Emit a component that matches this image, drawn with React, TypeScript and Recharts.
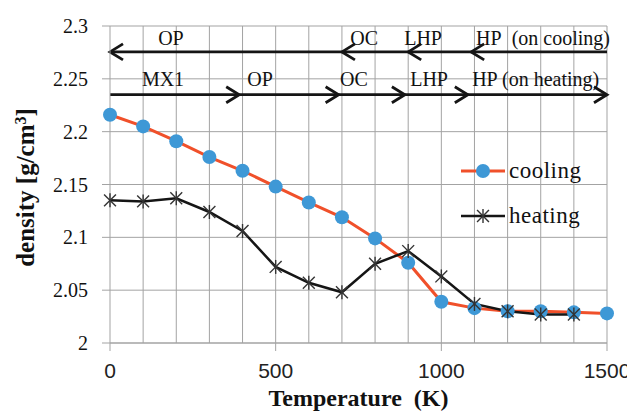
import {
  CartesianGrid,
  Customized,
  Legend,
  Line,
  LineChart,
  ReferenceDot,
  ReferenceLine,
  XAxis,
  YAxis
} from 'recharts';

const temperatures = [0, 100, 200, 300, 400, 500, 600, 700, 800, 900, 1000, 1100, 1200, 1300, 1400, 1500];
const cooling = [2.216, 2.205, 2.191, 2.176, 2.163, 2.148, 2.133, 2.119, 2.099, 2.076, 2.039, 2.033, 2.03, 2.03, 2.029, 2.028];
const heating = [2.135, 2.134, 2.137, 2.124, 2.106, 2.072, 2.057, 2.048, 2.075, 2.087, 2.063, 2.037, 2.03, 2.027, 2.027];

const xTicks = [0, 500, 1000, 1500];
const yTicks = [2, 2.05, 2.1, 2.15, 2.2, 2.25, 2.3];
const gridX = [100, 200, 300, 400, 500, 600, 700, 800, 900, 1000, 1100, 1200, 1300, 1400, 1500];

// phase arrows, [from, to] in K
const coolingArrows = [[1500, 1090], [1090, 900], [900, 700], [700, 0]];
const heatingArrows = [[0, 390], [390, 690], [690, 890], [890, 1080], [1080, 1500]];
const coolingArrowY = 2.2755;
const heatingArrowY = 2.235;

const coolingPhases = [
  { x: 184, text: 'OP', anchor: 'middle' },
  { x: 767, text: 'OC', anchor: 'middle' },
  { x: 945, text: 'LHP', anchor: 'middle' },
  { x: 1105, text: 'HP\u00a0\u00a0(on cooling)', anchor: 'start' }
];
const heatingPhases = [
  { x: 160, text: 'MX1', anchor: 'middle' },
  { x: 453, text: 'OP', anchor: 'middle' },
  { x: 736, text: 'OC', anchor: 'middle' },
  { x: 963, text: 'LHP', anchor: 'middle' },
  { x: 1093, text: 'HP (on heating)', anchor: 'start' }
];
const coolingLabelY = 2.289;
const heatingLabelY = 2.25;

const data = temperatures.map((t, i) => ({
  temperature: t,
  cooling: cooling[i],
  heating: heating[i]
}));

const SERIF = '"Liberation Serif", "Times New Roman", serif';
const GRID = '#a3a3a3';
const ORANGE = '#f0502a';
const BLUE = '#3e98d6';
const DARK = '#151515';

function Arrow(props: any) {
  const { x1, y1, x2, y2 } = props;
  const dir = x2 > x1 ? 1 : -1;
  const len = 13;
  const half = 8;
  return (
    <g stroke={DARK} strokeWidth={2.8} fill='none'>
      <line x1={x1} y1={y1} x2={x2} y2={y2} />
      <polyline points={`${x2 - dir * len},${y2 - half} ${x2},${y2} ${x2 - dir * len},${y2 + half}`} />
    </g>
  );
}

function Star({ cx, cy, size = 7, color = '#333' }: any) {
  if (cx == null || cy == null) return null;
  const d = size * 0.85;
  return (
    <g stroke={color} strokeWidth={1.4}>
      <line x1={cx} y1={cy - size} x2={cx} y2={cy + size} />
      <line x1={cx - d} y1={cy - d} x2={cx + d} y2={cy + d} />
      <line x1={cx - d} y1={cy + d} x2={cx + d} y2={cy - d} />
    </g>
  );
}

function phaseLabel(text: string, anchor: string) {
  return (p: any) => (
    <text
      x={p.cx}
      y={p.cy}
      textAnchor={anchor}
      dominantBaseline='central'
      fontFamily={SERIF}
      fontSize={20}
      fill='#111'
    >
      {text}
    </text>
  );
}

function LegendBox() {
  const rows = [
    { name: 'cooling', line: ORANGE },
    { name: 'heating', line: DARK }
  ];
  return (
    <div>
      {rows.map(r => (
        <div key={r.name} style={{ display: 'flex', alignItems: 'center', height: 45 }}>
          <svg width={48} height={20}>
            <line x1={2} y1={10} x2={46} y2={10} stroke={r.line} strokeWidth={r.name === 'cooling' ? 3 : 2.5} />
            {r.name === 'cooling' ? (
              <circle cx={24} cy={10} r={7} fill={BLUE} />
            ) : (
              <Star cx={24} cy={10} />
            )}
          </svg>
          <span style={{ fontFamily: SERIF, fontSize: 23, color: '#111', marginLeft: 2, letterSpacing: 0.5 }}>
            {r.name}
          </span>
        </div>
      ))}
    </div>
  );
}

export default function App() {
  return (
    <div style={{ margin: -8 }}>
      <LineChart width={635} height={420} data={data} margin={{ top: 26, right: 28, left: 0, bottom: 0 }}>
        <CartesianGrid stroke={GRID} vertical={false} />
        {gridX.map(v => (
          <ReferenceLine key={`g${v}`} x={v} stroke={GRID} strokeWidth={1} />
        ))}
        <XAxis
          type='number'
          dataKey='temperature'
          domain={[0, 1500]}
          ticks={xTicks}
          height={77}
          tickSize={8}
          tickMargin={12}
          stroke={GRID}
          tick={{ fontFamily: '"Liberation Sans", Arial, sans-serif', fontSize: 21, fill: '#222' }}
          label={(p: any) => (
            <text
              x={p.viewBox.x + p.viewBox.width / 2}
              y={p.viewBox.y + 63}
              textAnchor='middle'
              fontFamily={SERIF}
              fontWeight='bold'
              fontSize={24}
              fill='#111'
            >
              Temperature{'\u00a0\u00a0'}(K)
            </text>
          )}
        />
        <YAxis
          type='number'
          domain={[2, 2.3]}
          ticks={yTicks}
          width={110}
          tickSize={8}
          tickMargin={14}
          stroke={GRID}
          tick={{ fontFamily: SERIF, fontSize: 20, fill: '#111' }}
          label={(p: any) => {
            const cx = 34;
            const cy = p.viewBox.y + p.viewBox.height / 2 + 3;
            return (
              <text
                x={cx}
                y={cy}
                transform={`rotate(-90, ${cx}, ${cy})`}
                textAnchor='middle'
                fontFamily={SERIF}
                fontWeight='bold'
                fontSize={25}
                fill='#111'
              >
                density [g/cm<tspan baselineShift='super' fontSize={16}>3</tspan>]
              </text>
            );
          }}
        />
        {coolingArrows.map(([a, b]) => (
          <ReferenceLine
            key={`c${a}`}
            segment={[{ x: a, y: coolingArrowY }, { x: b, y: coolingArrowY }]}
            shape={Arrow}
          />
        ))}
        {heatingArrows.map(([a, b]) => (
          <ReferenceLine
            key={`h${a}`}
            segment={[{ x: a, y: heatingArrowY }, { x: b, y: heatingArrowY }]}
            shape={Arrow}
          />
        ))}
        {coolingPhases.map(p => (
          <ReferenceDot key={`cl${p.x}`} x={p.x} y={coolingLabelY} shape={phaseLabel(p.text, p.anchor)} />
        ))}
        {heatingPhases.map(p => (
          <ReferenceDot key={`hl${p.x}`} x={p.x} y={heatingLabelY} shape={phaseLabel(p.text, p.anchor)} />
        ))}
        <Line
          dataKey='cooling'
          stroke={ORANGE}
          strokeWidth={3}
          dot={{ r: 7, fill: BLUE, stroke: 'none' }}
          activeDot={false}
          isAnimationActive={false}
        />
        <Line
          dataKey='heating'
          stroke={DARK}
          strokeWidth={2.5}
          dot={(p: any) => <Star key={p.index} cx={p.cx} cy={p.cy} />}
          activeDot={false}
          isAnimationActive={false}
        />
        <Legend
          content={() => <LegendBox />}
          wrapperStyle={{ left: 459, top: 148, width: 170 }}
          layout='horizontal'
          verticalAlign='middle'
          align='center'
        />
        <Customized
          component={() => (
            <text x={321} y={3} textAnchor='middle' fontFamily={SERIF} fontSize={18} fill='#333'>
              (a)
            </text>
          )}
        />
      </LineChart>
    </div>
  );
}
